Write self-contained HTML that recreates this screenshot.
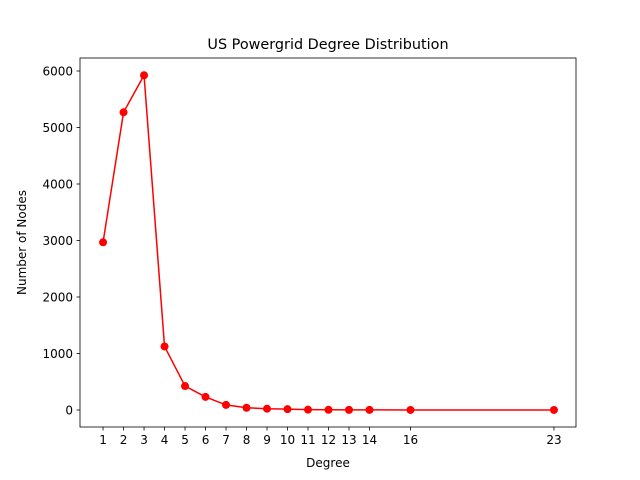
<!DOCTYPE html>
<html><head><meta charset="utf-8"><style>
body{margin:0;background:#fff;}
svg{display:block;font-family:"DejaVu Sans","Liberation Sans",sans-serif;}
</style></head><body>
<svg id="chart" width="640" height="480">
<rect x="0" y="0" width="640" height="480" fill="#fff"/>
<text x="328" y="49" text-anchor="middle" font-size="14.4">US Powergrid Degree Distribution</text>
<g id="xticks"></g>
<g id="yticks"></g>
<g id="series"></g>
<rect x="80" y="58" width="496" height="369" fill="none" stroke="#000" stroke-width="0.8"/>
<text x="328" y="467" text-anchor="middle" font-size="12">Degree</text>
<text transform="translate(26,242.5) rotate(-90)" text-anchor="middle" font-size="12">Number of Nodes</text>
</svg>
<script>
const degrees=[1,2,3,4,5,6,7,8,9,10,11,12,13,14,16,23];
const counts=[2968,5269,5925,1125,424,232,90,40,23,15,6,4,2,2,1,1];
const xTickLabels=[1,2,3,4,5,6,7,8,9,10,11,12,13,14,16,23];
const yTickLabels=[0,1000,2000,3000,4000,5000,6000];
const NS="http://www.w3.org/2000/svg";
function xs(v){return 80.5+(v+0.1)/24.2*496;}
function ys(v){return 410-v*0.0565;}
function mk(tag,attrs,parent){const e=document.createElementNS(NS,tag);for(const k in attrs)e.setAttribute(k,attrs[k]);parent.appendChild(e);return e;}
const xg=document.getElementById('xticks'),yg=document.getElementById('yticks'),sg=document.getElementById('series');
xTickLabels.forEach(t=>{
 const l=mk('line',{x1:xs(t),x2:xs(t),y1:427,y2:430.5,stroke:'#000','stroke-width':0.8},xg);
 
 
 const tx=mk('text',{x:xs(t),y:444,'text-anchor':'middle','font-size':12},xg);
 tx.textContent=t;
 
 
});
yTickLabels.forEach(t=>{
 const l=mk('line',{x1:76.5,x2:80,y1:ys(t),y2:ys(t),stroke:'#000','stroke-width':0.8},yg);
 
 
 const tx=mk('text',{x:73,y:ys(t)+4.5,'text-anchor':'end','font-size':12},yg);
 tx.textContent=t;
 
 
});
const pts=degrees.map((d,i)=>xs(d)+','+ys(counts[i])).join(' ');
const line=mk('polyline',{points:pts,fill:'none',stroke:'#ff0000','stroke-width':1.5},sg);


degrees.forEach((d,i)=>{
 const c=mk('circle',{cx:xs(d),cy:ys(counts[i]),r:4,fill:'#ff0000'},sg);
 
 
});
</script>
</body></html>
